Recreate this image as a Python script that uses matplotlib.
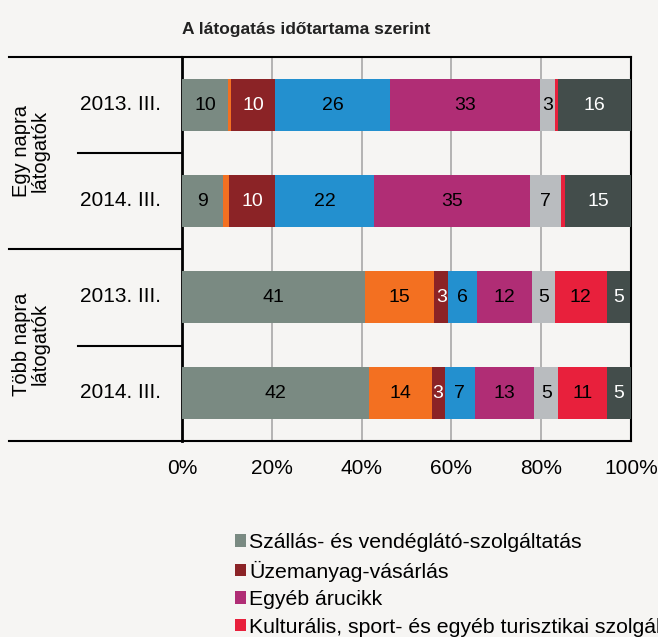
import matplotlib
matplotlib.use("Agg")
import matplotlib.pyplot as plt
from matplotlib.patches import Patch
from matplotlib.lines import Line2D

rows = ["2013. III.", "2014. III.", "2013. III.", "2014. III."]
groups = ["Egy napra\nlátogatók", "Több napra\nlátogatók"]
categories = [
    "Szállás- és vendéglátó-szolgáltatás",
    "Egyéb (narancs)",
    "Üzemanyag-vásárlás",
    "Egyéb (kék)",
    "Egyéb árucikk",
    "Egyéb (szürke)",
    "Kulturális, sport- és egyéb turisztikai szolgáltatás",
    "Egyéb (sötét)",
]
values = [
    [10.3, 0.7, 9.7, 25.7, 33.4, 3.3, 0.7, 16.2],
    [9.2, 1.3, 10.2, 22.1, 34.6, 7.1, 0.9, 14.6],
    [40.8, 15.4, 3.1, 6.3, 12.3, 5.1, 11.6, 5.2],
    [41.7, 13.9, 2.9, 6.8, 13.2, 5.3, 10.8, 5.4],
]
colors = ["#7a8a82", "#f37021", "#8b2326", "#2390cf", "#b02d75", "#b9bcbf", "#e8203c", "#434d4b"]
text_colors = ["black", "black", "white", "black", "black", "black", "black", "white"]
legend_idx = [0, 2, 4, 6]
xticks = [0, 20, 40, 60, 80, 100]

BG = "#f6f5f3"
REG = ["Liberation Sans", "DejaVu Sans"]

fig = plt.figure(figsize=(6.58, 6.37), dpi=100, facecolor=BG)
W, H = 658, 637
ax = fig.add_axes([182 / W, 1 - 441 / H, (631 - 182) / W, (441 - 57) / H])
ax.set_facecolor(BG)

for i, row in enumerate(values):
    left = 0
    for j, v in enumerate(row):
        ax.barh(i, v, left=left, height=0.55, color=colors[j], edgecolor="none", zorder=3)
        if v >= 2:
            ax.text(left + v / 2, i, f"{round(v)}", ha="center", va="center",
                    color=text_colors[j], fontsize=14, family=REG, zorder=4)
        left += v

ax.set_xlim(0, 100)
ax.set_ylim(3.5, -0.5)
ax.set_xticks(xticks)
ax.set_xticklabels([f"{t}%" for t in xticks], family=REG, fontsize=15)
ax.tick_params(axis="x", length=0, pad=13)
ax.set_yticks([])
ax.grid(axis="x", color="#a8a8a8", linewidth=1.2, zorder=0)
for s in ["top", "right", "bottom"]:
    ax.spines[s].set_color("black")
    ax.spines[s].set_linewidth(1.5)
ax.spines["left"].set_color("black")
ax.spines["left"].set_linewidth(2)

# left table lines (figure coordinates)
def hline(y, x0, x1):
    fig.add_artist(Line2D([x0 / W, x1 / W], [1 - y / H, 1 - y / H], color="black", linewidth=1.5))

hline(57, 9, 182)
hline(153, 78, 182)
hline(249, 9, 182)
hline(346, 78, 182)
hline(441, 9, 182)

for i, r in enumerate(rows):
    ax.text(-0.136, i, r, transform=ax.get_yaxis_transform(), ha="center", va="center",
            fontsize=15, family=REG)
for g, label in enumerate(groups):
    fig.text(31 / W, 1 - (151 + g * 193) / H, label, rotation=90, ha="center", va="center",
             fontsize=14.5, family=REG, linespacing=0.95, multialignment="center")

fig.text(306 / W, 1 - 34.3 / H, "A látogatás időtartama szerint", ha="center", va="baseline",
         fontsize=12.5, fontweight="bold", family=REG, color="#222222")

handles = [Patch(facecolor=colors[k], edgecolor="none") for k in legend_idx]
labels = [categories[k] for k in legend_idx]
fig.legend(handles, labels, loc="upper left", bbox_to_anchor=(235 / W, 1 - 533 / H),
           frameon=False, prop={"family": REG, "size": 15.3}, handlelength=0.52,
           handleheight=0.52, handletextpad=0.15, labelspacing=0.4, borderaxespad=0,
           borderpad=0)

fig.savefig("out.png", dpi=100, facecolor=BG)
